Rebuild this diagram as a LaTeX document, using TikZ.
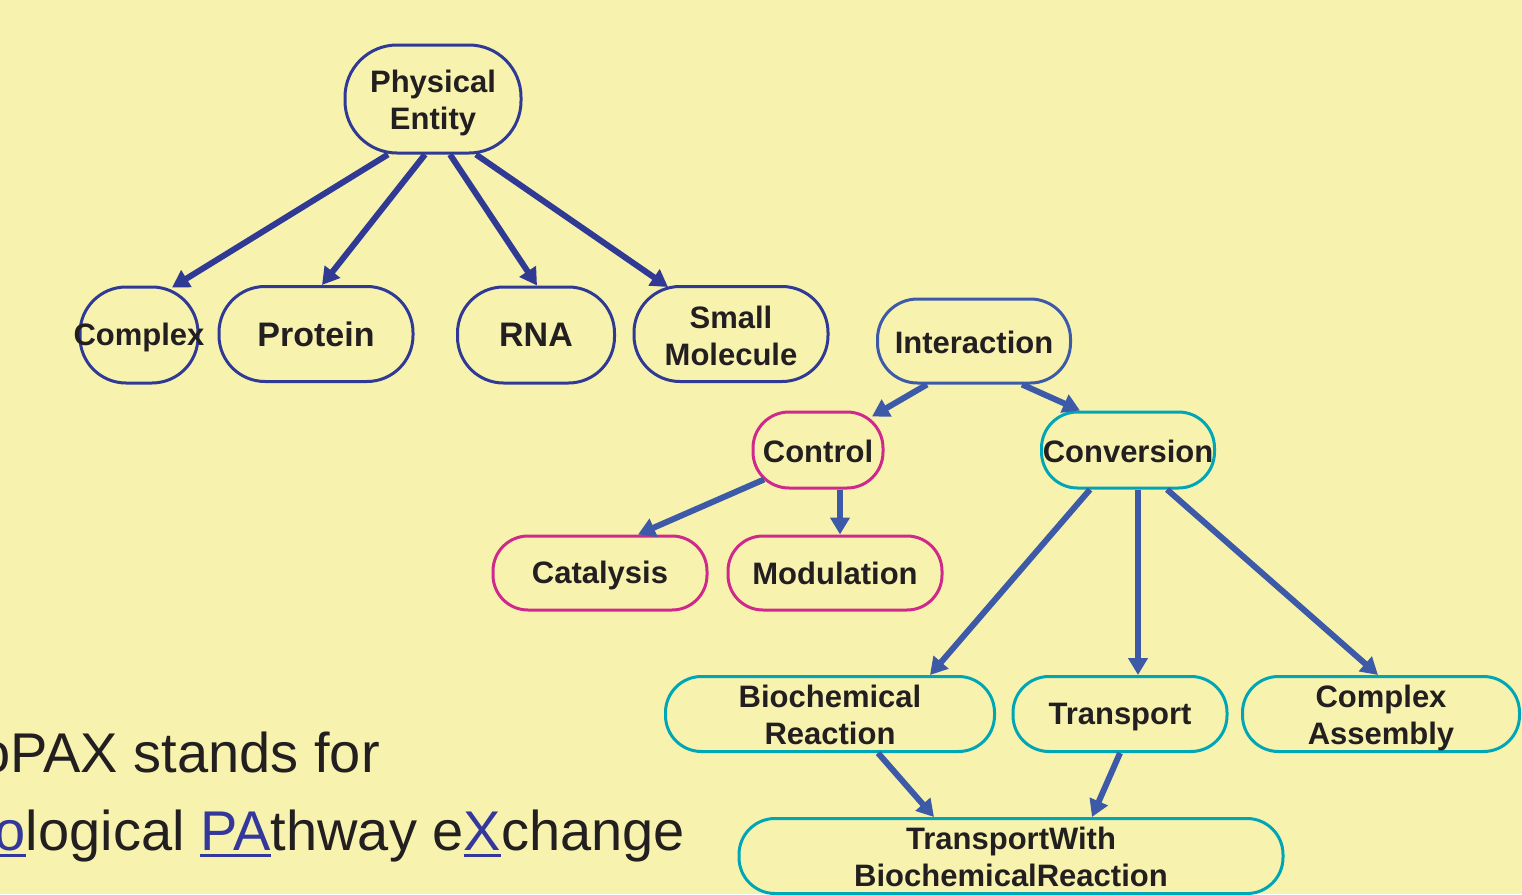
\documentclass[tikz,border=0pt]{standalone}
\usepackage{fontspec}
\setmainfont{Liberation Sans}
\usetikzlibrary{arrows.meta,calc}
\definecolor{bg}{RGB}{247,243,174}
\definecolor{navy}{RGB}{48,58,148}
\definecolor{ablue}{RGB}{61,90,168}
\definecolor{magen}{RGB}{207,42,139}
\definecolor{teal}{RGB}{0,166,182}
\definecolor{txt}{RGB}{35,31,32}
\definecolor{ulblue}{RGB}{52,56,156}
\newcommand\myulword[1]{\setbox0\hbox{#1}\rlap{\rule[-7pt]{\wd0}{3.5pt}}#1}
\newcommand\lowerby[1]{\rule{0pt}{\dimexpr 23pt+#1\relax}}
\tikzset{
  pill/.style={draw, line width=3pt, inner sep=0pt, fill=bg, text=txt,
    font=\bfseries\fontsize{31}{37}\selectfont, align=center},
  arr/.style={line width=6pt, -{Triangle[length=17pt,width=19pt]}},
}
\begin{document}
\begin{tikzpicture}[x=1pt,y=-1pt]
\useasboundingbox (0,0) rectangle (1522,894);
\clip (0,0) rectangle (1522,894);
\fill[bg] (0,0) rectangle (1522,894);

% Physical entity tree
\node[pill, draw=navy, minimum width=176pt, minimum height=108pt, rounded corners=52pt] (pe) at (433,99) {\lowerby{8pt}Physical\\Entity};
\node[pill, draw=navy, minimum width=118pt, minimum height=96pt, rounded corners=46pt] (complex) at (139,335) {};
\node[text=txt, font=\bfseries\fontsize{31}{37}\selectfont, inner sep=0pt] (complextxt) at ($(complex.center)+(0,2)$) {Complex};
\node[pill, draw=navy, minimum width=194pt, minimum height=95pt, rounded corners=46pt, font=\bfseries\fontsize{34}{40}\selectfont] (protein) at (316,334) {Protein};
\node[pill, draw=navy, minimum width=157pt, minimum height=96pt, rounded corners=46pt, font=\bfseries\fontsize{34}{40}\selectfont] (rna) at (536,335) {RNA};
\node[pill, draw=navy, minimum width=194pt, minimum height=95pt, rounded corners=46pt] (sm) at (731,334) {\lowerby{4pt}Small\\Molecule};

\draw[arr, navy] ($(pe.south)+(-45,0)$) -- ($(complex.north)+(33,2)$);
\draw[arr, navy] ($(pe.south)+(-8,0)$) -- ($(protein.north)+(6,0)$);
\draw[arr, navy] ($(pe.south)+(17,0)$) -- ($(rna.north)+(1,0)$);
\draw[arr, navy] ($(pe.south)+(43,0)$) -- ($(sm.north)+(-63,2)$);

% Interaction tree
\node[pill, draw=ablue, minimum width=193pt, minimum height=84pt, rounded corners=40pt] (inter) at (974,341) {\lowerby{2pt}Interaction};
\node[pill, draw=magen, minimum width=130pt, minimum height=76pt, rounded corners=36pt] (control) at (818,450) {\lowerby{2pt}Control};
\node[pill, draw=teal, minimum width=173pt, minimum height=76pt, rounded corners=36pt] (conv) at (1128,450) {\lowerby{2pt}Conversion};
\node[pill, draw=magen, minimum width=214pt, minimum height=74pt, rounded corners=35pt] (cat) at (600,573) {\lowerby{4pt}Catalysis};
\node[pill, draw=magen, minimum width=214pt, minimum height=74pt, rounded corners=35pt] (mod) at (835,573) {Modulation};
\node[pill, draw=teal, minimum width=329pt, minimum height=75pt, rounded corners=36pt] (bio) at (830,714) {\lowerby{2pt}Biochemical\\Reaction};
\node[pill, draw=teal, minimum width=214pt, minimum height=75pt, rounded corners=36pt] (trans) at (1120,714) {\lowerby{4pt}Transport};
\node[pill, draw=teal, minimum width=277pt, minimum height=75pt, rounded corners=36pt] (ca) at (1381,714) {\lowerby{8pt}Complex\\Assembly};
\node[pill, draw=teal, minimum width=544pt, minimum height=75pt, rounded corners=36pt] (twbr) at (1011,856) {\lowerby{2pt}TransportWith\\BiochemicalReaction};

\draw[arr, ablue] ($(inter.south)+(-47,0)$) -- ($(control.north)+(54,6)$);
\draw[arr, ablue] ($(inter.south)+(48,0)$) -- ($(conv.north)+(-48,0)$);
\draw[arr, ablue] ($(control.south)+(-54,-10)$) -- ($(cat.north)+(38,0)$);
\draw[arr, ablue] ($(control.south)+(22,0)$) -- ($(mod.north)+(5,0)$);
\draw[arr, ablue] ($(conv.south)+(-38,0)$) -- ($(bio.north)+(100,0)$);
\draw[arr, ablue] ($(conv.south)+(10,0)$) -- ($(trans.north)+(18,0)$);
\draw[arr, ablue] ($(conv.south)+(39,0)$) -- ($(ca.north)+(-3,0)$);
\draw[arr, ablue] ($(bio.south)+(48,0)$) -- ($(twbr.north)+(-77,0)$);
\draw[arr, ablue] ($(trans.south)+(0,0)$) -- ($(twbr.north)+(81,0)$);

% caption text
\node[anchor=base east, inner sep=0pt, text=txt, font=\fontsize{56}{60}\selectfont] (line1) at (380,772) {BioPAX stands for};
\node[anchor=base east, inner sep=0pt, text=txt, font=\fontsize{56}{60}\selectfont] (line2) at (685,850)
  {\textcolor{ulblue}{\myulword{Bio}}logical \textcolor{ulblue}{\myulword{PA}}thway e\textcolor{ulblue}{\myulword{X}}change};
\end{tikzpicture}
\end{document}
